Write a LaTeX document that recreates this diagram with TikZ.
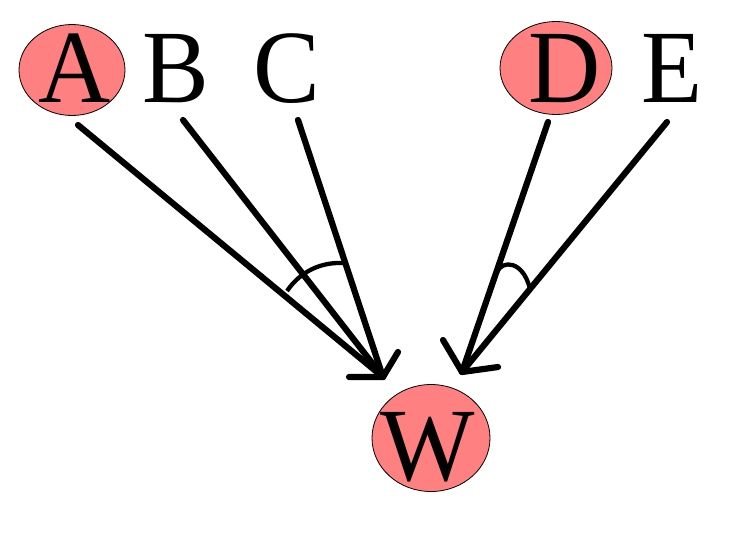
\documentclass[tikz,border=0pt]{standalone}
\usepackage{fontspec}
\setmainfont{Liberation Serif}
\usetikzlibrary{shapes.geometric}
\definecolor{pinkfill}{RGB}{255,128,128}
\begin{document}
\begin{tikzpicture}[x=1pt,y=-1pt,
  ell/.style={draw=black,line width=0.8pt,fill=pinkfill,ellipse,inner sep=0pt},
  letter/.style={font=\fontsize{100}{100}\selectfont,inner sep=0pt,anchor=base,yscale=1.04},
  conn/.style={line width=6.2pt,line cap=round,line join=round},
  angarc/.style={line width=4.3pt}]
\useasboundingbox (0,0) rectangle (735,544);
% ellipses
\node[ell,minimum width=106pt,minimum height=91pt] (eA) at (72,70) {};
\node[ell,minimum width=112pt,minimum height=93pt] (eD) at (556,68) {};
\node[ell,minimum width=118pt,minimum height=107pt] (eW) at (431,438) {};
% letters
\node[letter] (A) at (75,102) {A};
\node[letter] (B) at (176,102) {B};
\node[letter] (C) at (287,102) {C};
\node[letter] (D) at (565,102) {D};
\node[letter] (E) at (672,102) {E};
\node[letter] (W) at (428,480) {W};
% connector end points
\coordinate (a) at (78,125);
\coordinate (b) at (183,120);
\coordinate (c) at (298,120);
\coordinate (d) at (548,122);
\coordinate (e) at (667,122);
\coordinate (t1) at (383,377);
\coordinate (t2) at (462,372);
% connectors
\draw[conn] (a) -- (t1);
\draw[conn] (b) -- (t1);
\draw[conn] (c) -- (t1);
\draw[conn] (d) -- (t2);
\draw[conn] (e) -- (t2);
% arrowheads
\draw[conn] (t1) ++(-34,0) -- (t1) -- ++(15,-25);
\draw[conn] (t2) ++(-19,-32) -- (t2) -- ++(36,-5);
% angle arcs
\draw[angarc] (287,291) .. controls (300,272) and (320,262) .. (343,263);
\draw[angarc] (497,272) .. controls (502,260) and (523,260) .. (530,289);
\end{tikzpicture}
\end{document}
